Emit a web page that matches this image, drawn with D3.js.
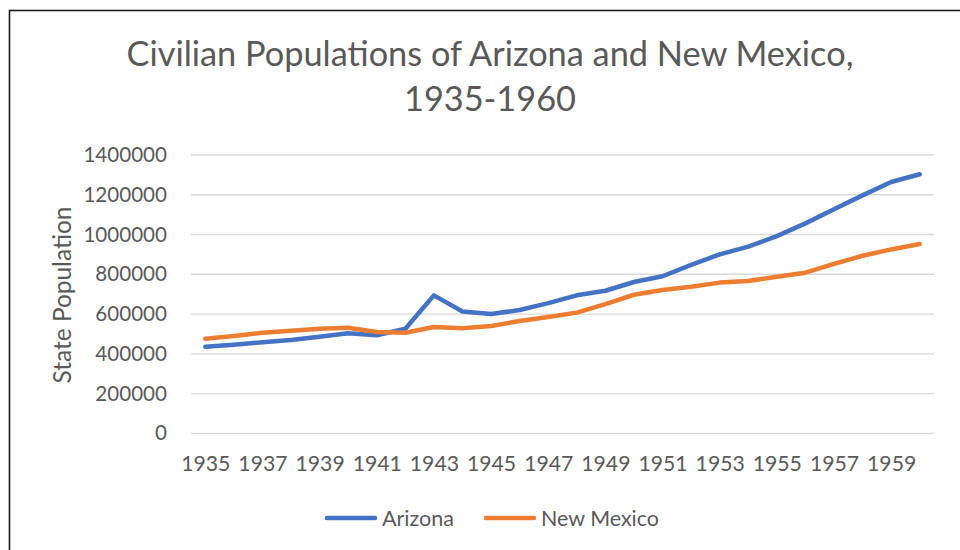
<!DOCTYPE html>
<meta charset="utf-8">
<style>
body { margin: 0; background: #fff; }
text { font-family: Lato, "Open Sans", sans-serif; fill: #595959; }
.grid line { stroke: #d9d9d9; stroke-width: 1.3; }
.series { fill: none; stroke-width: 4.5; stroke-linejoin: round; stroke-linecap: round; }
</style>
<body>
<script src="https://d3js.org/d3.v7.min.js"></script>
<script>
// categories and series
var years = [1935, 1936, 1937, 1938, 1939, 1940, 1941, 1942, 1943, 1944, 1945, 1946, 1947,
             1948, 1949, 1950, 1951, 1952, 1953, 1954, 1955, 1956, 1957, 1958, 1959, 1960];
var arizona = [435000, 446000, 458000, 469000, 486000, 503000, 493000, 526000, 694000, 613000,
               600000, 620000, 655000, 694000, 717000, 761000, 790000, 847000, 900000, 939000,
               992000, 1056000, 1127000, 1197000, 1264000, 1303000];
var newMexico = [476000, 489000, 506000, 516000, 526000, 531000, 510000, 506000, 535000, 528000,
                 540000, 565000, 585000, 607000, 650000, 697000, 721000, 737000, 758000, 766000,
                 788000, 808000, 852000, 893000, 925000, 952000];
var yTicks = [0, 200000, 400000, 600000, 800000, 1000000, 1200000, 1400000];
var xTickYears = [1935, 1937, 1939, 1941, 1943, 1945, 1947, 1949, 1951, 1953, 1955, 1957, 1959];
var seriesNames = ["Arizona", "New Mexico"];
var colors = ["#4472C4", "#ED7D31"];

var W = 960, H = 550;
var plot = {left: 191, right: 934, top: 155, bottom: 433.3};

var svg = d3.select("body").append("svg")
    .attr("width", W)
    .attr("height", H);

// chart frame (right and bottom edges run off the picture)
svg.append("rect")
    .attr("x", 9.5).attr("y", 10.5)
    .attr("width", 970).attr("height", 560)
    .attr("fill", "#fff")
    .attr("stroke", "#1a1a1a")
    .attr("stroke-width", 1.6);

var x = d3.scalePoint()
    .domain(years)
    .range([plot.left, plot.right])
    .padding(0.5);

var y = d3.scaleLinear()
    .domain([0, 1400000])
    .range([plot.bottom, plot.top]);

// fit a text node to a target width by adjusting its font size
function fit(sel, target) {
  var n = sel.node();
  var fs = parseFloat(sel.attr("font-size"));
  var w = n.getComputedTextLength();
  sel.attr("font-size", (fs * target / w).toFixed(2));
  return sel;
}

// title
var t1 = svg.append("text")
    .attr("x", 490).attr("y", 66)
    .attr("text-anchor", "middle")
    .attr("font-size", 30)
    .text("Civilian Populations of Arizona and New Mexico,");
fit(t1, 727);
svg.append("text")
    .attr("x", 490).attr("y", 111)
    .attr("text-anchor", "middle")
    .attr("font-size", t1.attr("font-size"))
    .text("1935-1960");

// gridlines
svg.append("g")
    .attr("class", "grid")
    .selectAll("line")
    .data(yTicks)
  .enter().append("line")
    .attr("x1", plot.left).attr("x2", plot.right)
    .attr("y1", function(d) { return y(d); })
    .attr("y2", function(d) { return y(d); });

// y axis labels
var yAxis = d3.axisLeft(y)
    .tickValues(yTicks)
    .tickFormat(d3.format("d"))
    .tickSize(0)
    .tickPadding(24);
var gy = svg.append("g")
    .attr("transform", "translate(" + plot.left + ",0)")
    .call(yAxis);
gy.select(".domain").remove();
gy.selectAll("text")
    .attr("font-size", 20.6)
    .attr("font-family", "Lato, sans-serif")
    .attr("fill", "#595959");

// x axis labels
var xAxis = d3.axisBottom(x)
    .tickValues(xTickYears)
    .tickSize(0)
    .tickPadding(23);
var gx = svg.append("g")
    .attr("transform", "translate(0," + plot.bottom + ")")
    .call(xAxis);
gx.select(".domain").remove();
gx.selectAll("text")
    .attr("font-size", 21.2)
    .attr("font-family", "Lato, sans-serif")
    .attr("fill", "#595959");

// y axis title
var yt = svg.append("text")
    .attr("transform", "translate(71,295) rotate(-90)")
    .attr("text-anchor", "middle")
    .attr("font-size", 21)
    .text("State Population");
fit(yt, 177);

// series lines
var line = d3.line()
    .x(function(d) { return x(d.year); })
    .y(function(d) { return y(d.value); });

[arizona, newMexico].forEach(function(vals, i) {
  var pts = years.map(function(yr, j) { return {year: yr, value: vals[j]}; });
  svg.append("path")
      .datum(pts)
      .attr("class", "series")
      .attr("stroke", colors[i])
      .attr("d", line);
});

// legend
var legendX = [325, 484];
seriesNames.forEach(function(name, i) {
  var g = svg.append("g").attr("transform", "translate(" + legendX[i] + ",518)");
  g.append("line")
      .attr("x1", 2).attr("x2", 50)
      .attr("y1", 0).attr("y2", 0)
      .attr("stroke", colors[i])
      .attr("stroke-width", 4.5)
      .attr("stroke-linecap", "round");
  var t = g.append("text")
      .attr("x", 57).attr("y", 7.5)
      .attr("font-size", 21.5)
      .text(name);
  fit(t, i === 0 ? 72 : 118);
});
</script>
</body>
